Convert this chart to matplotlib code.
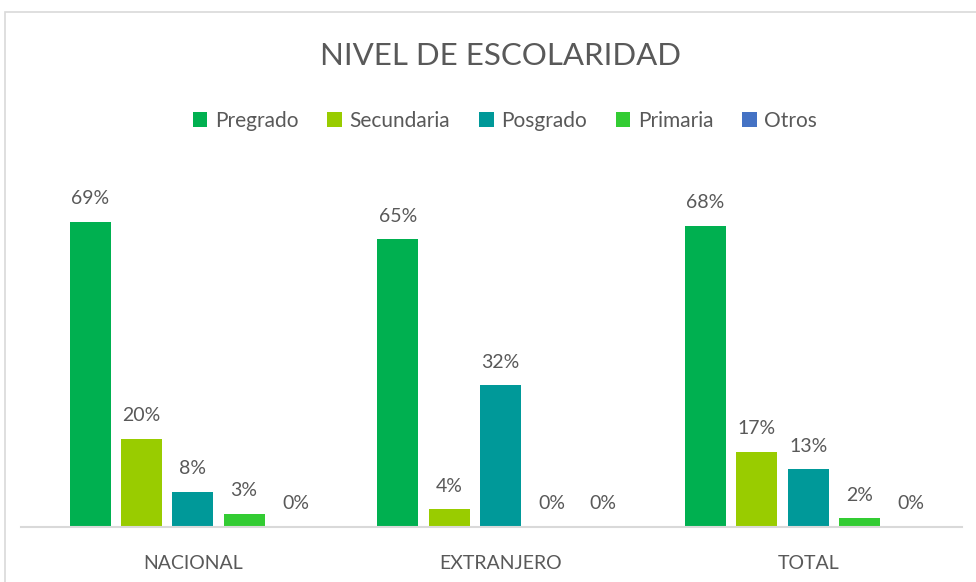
import numpy as np
import matplotlib
matplotlib.use("Agg")
import matplotlib.pyplot as plt
from matplotlib.patches import Rectangle
from matplotlib.lines import Line2D

plt.rcParams['font.family'] = ['Lato', 'DejaVu Sans']

categorias = ["NACIONAL", "EXTRANJERO", "TOTAL"]
series = ["Pregrado", "Secundaria", "Posgrado", "Primaria", "Otros"]
valores = {
    "Pregrado": [69, 65, 68],
    "Secundaria": [20, 4, 17],
    "Posgrado": [8, 32, 13],
    "Primaria": [3, 0, 2],
    "Otros": [0, 0, 0],
}
colores = ["#00B050", "#99CC00", "#009999", "#33CC33", "#4472C4"]
texto = "#595959"

W, H = 976, 582
fig = plt.figure(figsize=(W / 100, H / 100), dpi=100)

# marco del grafico
fig.patches.append(Rectangle((5 / W, -0.1), 1.2, (H - 12) / H + 0.1,
                             transform=fig.transFigure, fill=False,
                             edgecolor="#D9D9D9", linewidth=1.2))

ax = fig.add_axes([39 / W, (H - 527) / H, (962 - 39) / W, (527 - 173) / H])
x = np.arange(len(categorias))
paso = 1 / 6
ancho = 0.133
for i, (s, c) in enumerate(zip(series, colores)):
    pos = x + (i - 2) * paso
    ax.bar(pos, valores[s], width=ancho, color=c, label=s)
    for xp, v in zip(pos, valores[s]):
        ax.text(xp, v + 3.3, f"{v}%", ha="center", va="bottom",
                fontsize=14, color=texto)

ax.set_xlim(-0.5, 2.5)
ax.set_ylim(0, 80)
for sp in ax.spines.values():
    sp.set_visible(False)
ax.set_yticks([])
ax.set_xticks(x)
ax.set_xticklabels(categorias, fontsize=14, color=texto)
ax.tick_params(axis="x", length=0, pad=20)

fig.lines.append(Line2D([21 / W, 962 / W], [(H - 527) / H] * 2,
                        transform=fig.transFigure, color="#D9D9D9", linewidth=1.5))

fig.text(501 / W, (H - 56) / H, "NIVEL DE ESCOLARIDAD", ha="center", va="center",
         fontsize=22.5, color=texto)

h, l = ax.get_legend_handles_labels()
fig.legend(h, l, loc="center", bbox_to_anchor=(505 / W, (H - 121) / H), ncol=5,
           frameon=False, fontsize=15, labelcolor=texto, handlelength=0.7,
           handleheight=0.7, handletextpad=0.35, columnspacing=1.4)

fig.savefig("out.png", dpi=100)
